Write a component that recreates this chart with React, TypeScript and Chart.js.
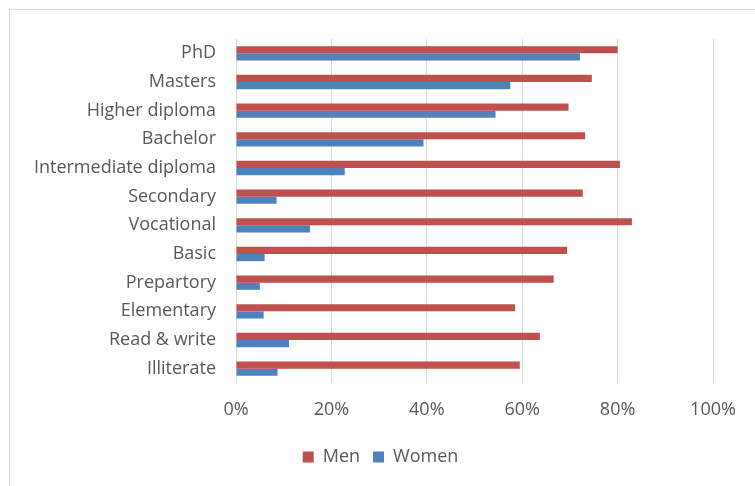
import React, { useEffect, useRef } from "react";
import { Chart, registerables } from "chart.js";

Chart.register(...registerables);

// Education levels, listed top to bottom
const categories = [
  "PhD",
  "Masters",
  "Higher diploma",
  "Bachelor",
  "Intermediate diploma",
  "Secondary",
  "Vocational",
  "Basic",
  "Prepartory",
  "Elementary",
  "Read & write",
  "Illiterate",
];

// Share per education level, in percent
const menValues = [80, 74.6, 69.7, 73.2, 80.5, 72.7, 83, 69.4, 66.6, 58.5, 63.7, 59.5];
const womenValues = [72.1, 57.5, 54.4, 39.3, 22.8, 8.5, 15.5, 6.0, 5.0, 5.8, 11.1, 8.7];

const xTicks = [0, 20, 40, 60, 80, 100];

const TEXT = "#595959";
const GRID = "#d9d9d9";
const FONT = "'Open Sans', sans-serif";

// Nudge the legend so it sits centred on the whole canvas
const legendShift = {
  id: "legendShift",
  afterUpdate(chart: any) {
    const lg = chart.legend;
    if (lg) {
      lg.left += 24;
      lg.right += 24;
    }
  },
};

export default function App() {
  const canvasRef = useRef<HTMLCanvasElement | null>(null);

  useEffect(() => {
    const canvas = canvasRef.current;
    if (!canvas) return;
    const chart = new Chart(canvas, {
      type: "bar",
      data: {
        labels: categories,
        datasets: [
          {
            label: "Men",
            data: menValues,
            backgroundColor: "#C0504D",
            borderWidth: 0,
            categoryPercentage: 0.5,
            barPercentage: 1,
          },
          {
            label: "Women",
            data: womenValues,
            backgroundColor: "#4F81BD",
            borderWidth: 0,
            categoryPercentage: 0.5,
            barPercentage: 1,
          },
        ],
      },
      options: {
        indexAxis: "y",
        animation: false,
        responsive: false,
        maintainAspectRatio: false,
        layout: { padding: { top: 39, right: 42, bottom: 10, left: 0 } },
        scales: {
          x: {
            min: 0,
            max: 100,
            afterBuildTicks: (scale: any) => {
              scale.ticks = xTicks.map((v) => ({ value: v }));
            },
            afterFit: (scale: any) => {
              scale.height = 52;
            },
            border: { display: false },
            grid: { color: GRID, lineWidth: 1, drawTicks: false },
            ticks: {
              padding: 16,
              color: TEXT,
              font: { family: FONT, size: 18 },
              callback: (v: any) => `${v}%`,
            },
          },
          y: {
            afterFit: (scale: any) => {
              scale.width = 236;
            },
            border: { display: false },
            grid: { display: false, drawTicks: false },
            ticks: {
              padding: 20,
              color: TEXT,
              font: { family: FONT, size: 18 },
            },
          },
        },
        plugins: {
          legend: {
            position: "bottom",
            labels: {
              boxWidth: 11,
              boxHeight: 11,
              padding: 13,
              color: TEXT,
              font: { family: FONT, size: 18 },
            },
          },
          tooltip: { enabled: false },
        },
      },
      plugins: [legendShift],
    });
    return () => chart.destroy();
  }, []);

  return (
    <div
      style={{
        position: "fixed",
        left: 0,
        top: 0,
        width: 755,
        height: 486,
        overflow: "hidden",
        background: "#ffffff",
      }}
    >
      <div
        style={{
          position: "absolute",
          left: 9,
          top: 9,
          width: 800,
          height: 600,
          border: "1px solid #d9d9d9",
          boxSizing: "border-box",
        }}
      />
      <canvas
        ref={canvasRef}
        width={755}
        height={486}
        style={{ position: "absolute", left: 0, top: 0 }}
      />
    </div>
  );
}
